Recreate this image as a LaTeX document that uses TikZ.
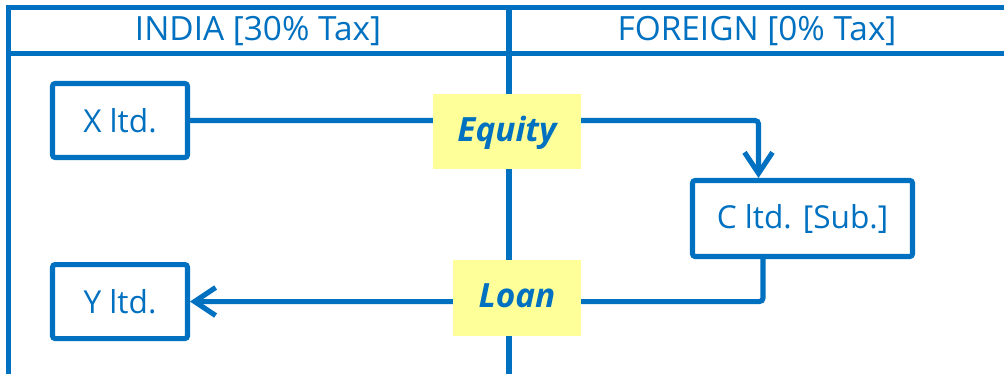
\documentclass[tikz,border=0pt]{standalone}
\usepackage{fontspec}
\setmainfont{Open Sans}
\usepackage{tikz}
\usetikzlibrary{arrows.meta, positioning}
\definecolor{lineblue}{RGB}{0,112,192}
\definecolor{noteyellow}{RGB}{255,255,153}

\begin{document}
\begin{tikzpicture}[
    x=0.02cm, y=-0.02cm,
    company/.style={rectangle, draw=lineblue, line width=2.9pt, rounded corners=1.5pt, minimum width=2.7cm, minimum height=1.48cm, text=lineblue, font=\fontsize{18}{20}\selectfont},
    flowlabel/.style={rectangle, fill=noteyellow, minimum height=1.52cm, text depth=0.3em, text=lineblue, font=\fontsize{19}{21}\selectfont\bfseries\itshape},
    header/.style={text=lineblue, font=\fontsize{19}{21}\selectfont},
    frame/.style={draw=lineblue, line width=3.1pt},
    arrow/.style={-{Straight Barb[length=0.42cm, width=0.56cm]}, draw=lineblue, line width=2.9pt, rounded corners=2pt}
]
\useasboundingbox (0,0) rectangle (1004,374);

% Header
\draw[frame] (8.5,374) -- (8.5,7.5) -- (1004,7.5);
\draw[frame] (8.5,53.5) -- (1004,53.5);
\draw[frame] (509,7.5) -- (509,374);
\node[header] (india) at (258,31.5) {INDIA [30\% Tax]};
\node[header] (foreign) at (757,31.5) {FOREIGN [0\% Tax]};

% Companies
\node[company] (xltd) at (120,120.5) {X ltd.};
\node[company, below=2.04cm of xltd] (yltd) {Y ltd.};
\node[company, minimum width=4.4cm, minimum height=1.52cm] (cltd) at (802.5,218.5) {C ltd. [Sub.]};

% Flows
\draw[arrow] (xltd.east) -| ([xshift=-0.88cm]cltd.north);
\draw[arrow] ([xshift=-0.79cm]cltd.south) |- (yltd.east);

% Labels on top of the lines
\node[flowlabel, minimum width=2.96cm] (equity) at (507,131.5) {Equity};
\node[flowlabel, minimum width=2.56cm] (loan) at (517,298) {Loan};

\end{tikzpicture}
\end{document}
